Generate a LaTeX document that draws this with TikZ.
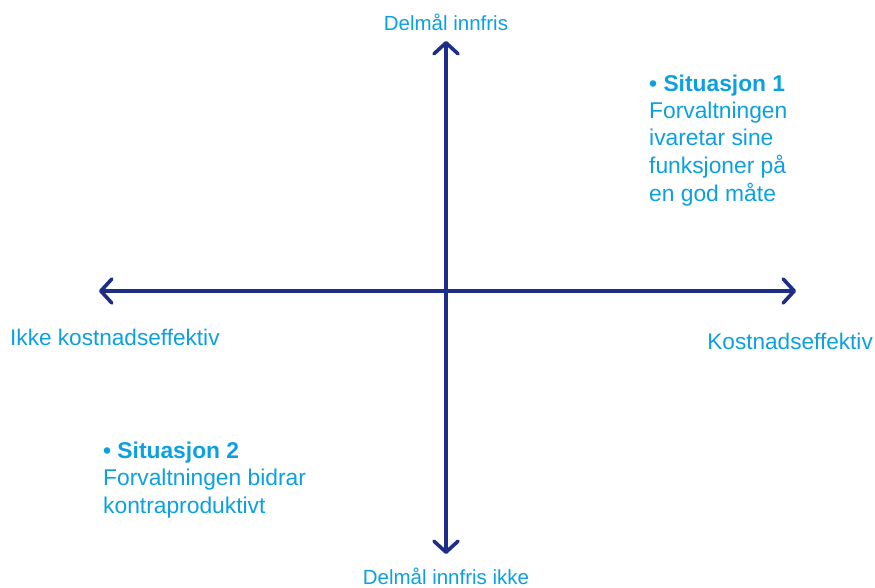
\documentclass[tikz,border=0pt]{standalone}
\usepackage{fontspec}
\setmainfont{Liberation Sans}
\usetikzlibrary{arrows.meta}
\definecolor{aksefarge}{RGB}{31,45,138}
\definecolor{tekstfarge}{RGB}{12,160,224}
\tikzset{
  akse/.style={draw=aksefarge, line width=3.6pt, line cap=round,
    {Straight Barb[length=11pt,width=24pt,line cap=round,line join=round]}-{Straight Barb[length=11pt,width=24pt,line cap=round,line join=round]}},
  akselabel/.style={text=tekstfarge, inner sep=0pt, font=\fontsize{22.6}{27}\selectfont},
  maallabel/.style={text=tekstfarge, inner sep=0pt, font=\fontsize{20.5}{24}\selectfont},
  situasjon/.style={text=tekstfarge, inner sep=0pt, align=left, font=\fontsize{22.8}{27.5}\selectfont}
}
\begin{document}
\begin{tikzpicture}[x=1pt,y=-1pt]
        \useasboundingbox (0,0) rectangle (875,588);
        % aksenes endepunkter
        \coordinate (venstre) at (99,291);
        \coordinate (hoyre) at (796,291);
        \coordinate (topp) at (446,41);
        \coordinate (bunn) at (446,554);
        % aksene
        \draw[akse] (venstre) -- (hoyre);
        \draw[akse] (bunn) -- (topp);
        % tekst ved aksene
        \node[maallabel, anchor=base] (innfris) at (446,31) {Delmål innfris};
        \node[maallabel, anchor=base] (ikkeinnfris) at (446,584.5) {Delmål innfris ikke};
        \node[akselabel, anchor=base west] (ikkekost) at (10,345) {Ikke kostnadseffektiv};
        \node[akselabel, anchor=base east] (kost) at (873,349) {Kostnadseffektiv};
        % situasjonene (base = siste linje)
        \node[situasjon, anchor=base west] (sit1) at (649,201)
          {\textbf{• Situasjon 1}\\Forvaltningen\\ivaretar sine\\funksjoner på\\en god måte};
        \node[situasjon, anchor=base west] (sit2) at (103,513)
          {\textbf{• Situasjon 2}\\Forvaltningen bidrar\\kontraproduktivt};
    \end{tikzpicture}
\end{document}
